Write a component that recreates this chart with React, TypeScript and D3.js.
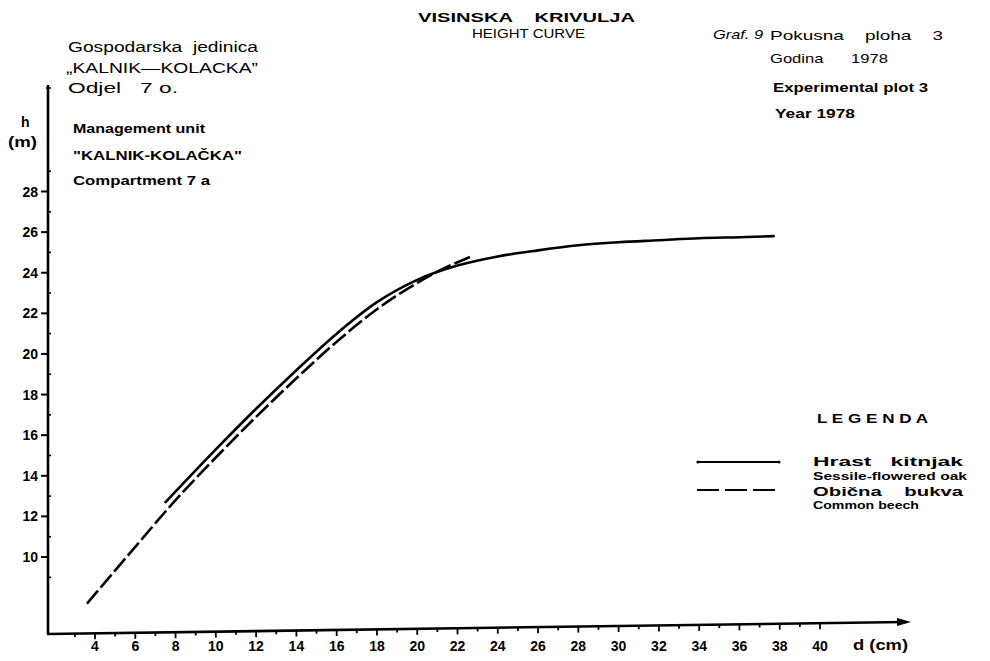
import React from "react";
import * as d3 from "d3";

// Oak (Hrast kitnjak) – solid
const oakD = [7.5, 10, 12, 14, 16, 18, 20, 22, 24, 26, 28, 30, 32, 34, 36, 37.7];
const oakH = [12.7, 15.3, 17.3, 19.2, 21.0, 22.55, 23.65, 24.35, 24.8, 25.1, 25.35, 25.5, 25.6, 25.7, 25.75, 25.8];
// Beech (Obična bukva) – dashed
const beechD = [3.6, 6, 8, 10, 12, 14, 16, 18, 20, 21, 22.8];
const beechH = [7.7, 10.5, 12.8, 14.9, 16.9, 18.8, 20.6, 22.2, 23.5, 24.05, 24.85];

const xTickLabels = [4, 6, 8, 10, 12, 14, 16, 18, 20, 22, 24, 26, 28, 30, 32, 34, 36, 38, 40];
const yTickLabels = [10, 12, 14, 16, 18, 20, 22, 24, 26, 28];

const FONT = "'Liberation Sans', Arial, sans-serif";

export default function App() {
  const x = d3.scaleLinear().domain([4, 40]).range([95, 820]);
  const y = d3.scaleLinear().domain([10, 28]).range([557, 191.5]);

  const axisX0 = 48;
  const axisX1 = 905;
  const axisYLeft = 634;
  const axisYRight = 622;
  const axisYAt = (px: number) => axisYLeft + ((px - axisX0) * (axisYRight - axisYLeft)) / (axisX1 - axisX0);

  const line = d3
    .line<[number, number]>()
    .x((p) => x(p[0]))
    .y((p) => y(p[1]))
    .curve(d3.curveMonotoneX);

  const oakPts = oakD.map((d, i) => [d, oakH[i]] as [number, number]);
  const beechPts = beechD.map((d, i) => [d, beechH[i]] as [number, number]);

  const xMinor = d3.range(3, 41);
  const yMinor = d3.range(9, 30, 2);

  const txt = (
    s: string,
    px: number,
    py: number,
    size: number,
    len?: number,
    extra: any = {},
    weight: string = "bold"
  ) => (
    <text
      x={px}
      y={py}
      fontSize={size}
      fontFamily={FONT}
      fontWeight={weight}
      fill="#000"
      style={{ whiteSpace: "pre" }}
      {...(len ? { textLength: len, lengthAdjust: "spacingAndGlyphs" } : {})}
      {...extra}
    >
      {s}
    </text>
  );

  return (
    <svg
      width={990}
      height={661}
      style={{ position: "absolute", left: 0, top: 0, background: "#fff" }}
    >
      <rect width={990} height={661} fill="#fff" />

      {/* header texts */}
      {txt("Gospodarska  jedinica", 68, 52, 14, 190, {}, "normal")}
      {txt("\u201EKALNIK\u2014KOLACKA\u201D", 66, 73, 14, 192, {}, "normal")}
      {txt("Odjel   7 o.", 68, 93, 14, 110, {}, "normal")}

      {txt("VISINSKA    KRIVULJA", 418, 22, 13, 217)}
      {txt("HEIGHT CURVE", 472, 38, 12, 113, {}, "normal")}

      {txt("Graf. 9", 713, 39, 13, 50, { fontStyle: "italic" }, "normal")}
      {txt("Pokusna    ploha    3", 770, 40, 13, 173, {}, "normal")}
      {txt("Godina      1978", 770, 63, 13, 118, {}, "normal")}
      {txt("Experimental plot 3", 773, 92, 13, 155)}
      {txt("Year 1978", 775, 118, 13, 80)}

      {txt("Management unit", 73, 133, 12.5, 132)}
      {txt("\"KALNIK-KOLA\u010CKA\"", 73, 160, 12.5, 169)}
      {txt("Compartment 7 a", 73, 185, 12.5, 137)}

      {/* y axis title */}
      {txt("h", 21, 127, 14)}
      {txt("(m)", 8, 147, 14, 29)}

      {/* y axis */}
      <line x1={48} y1={85} x2={48} y2={axisYLeft} stroke="#000" strokeWidth={2.6} />
      <line x1={46} y1={88} x2={51} y2={88} stroke="#000" strokeWidth={1.5} />
      {yTickLabels.map((v) => (
        <g key={"yt" + v}>
          <line x1={41} y1={y(v)} x2={48} y2={y(v)} stroke="#000" strokeWidth={2} />
          {txt(String(v), 38, y(v) + 5, 14, undefined, { textAnchor: "end" })}
        </g>
      ))}
      {yMinor.map((v) => (
        <line key={"ym" + v} x1={48} y1={y(v)} x2={51} y2={y(v)} stroke="#000" strokeWidth={1.6} />
      ))}

      {/* x axis */}
      <line x1={axisX0 - 1} y1={axisYLeft} x2={axisX1} y2={axisYRight} stroke="#000" strokeWidth={2.6} />
      <path
        d={`M${axisX1 + 6},${axisYRight} L${axisX1 - 8},${axisYRight - 4} L${axisX1 - 8},${axisYRight + 4} Z`}
        fill="#000"
      />
      {xMinor.map((v) => {
        const px = x(v);
        const ay = axisYAt(px);
        const major = v % 2 === 0 && v >= 4;
        return (
          <line
            key={"xm" + v}
            x1={px}
            y1={ay}
            x2={px}
            y2={ay + (major ? 6 : 3.5)}
            stroke="#000"
            strokeWidth={1.8}
          />
        );
      })}
      {xTickLabels.map((v) =>
        <g key={"xl" + v}>{txt(String(v), x(v), 651, 14, undefined, { textAnchor: "middle" })}</g>
      )}
      {txt("d (cm)", 853, 650, 14, 55)}

      {/* curves */}
      <path d={line(oakPts) || ""} fill="none" stroke="#000" strokeWidth={2.6} strokeLinecap="round" />
      <path
        d={line(beechPts) || ""}
        fill="none"
        stroke="#000"
        strokeWidth={2.6}
        strokeDasharray="17,4"
        strokeLinecap="butt"
      />

      {/* legend */}
      {txt("L E G E N D A", 817, 423, 13.5, 111)}
      <line x1={697} y1={462} x2={780} y2={462} stroke="#000" strokeWidth={2} />
      <circle cx={698} cy={462} r={1.6} fill="#000" />
      <circle cx={779} cy={462} r={1.6} fill="#000" />
      {txt("Hrast   kitnjak", 813, 466, 13, 150)}
      {txt("Sessile-flowered oak", 813, 480, 11, 154)}
      <line x1={697} y1={490} x2={780} y2={490} stroke="#000" strokeWidth={2} strokeDasharray="22,6" />
      {txt("Obi\u010Dna    bukva", 813, 496, 13, 150)}
      {txt("Common beech", 813, 509, 11, 106)}
    </svg>
  );
}
